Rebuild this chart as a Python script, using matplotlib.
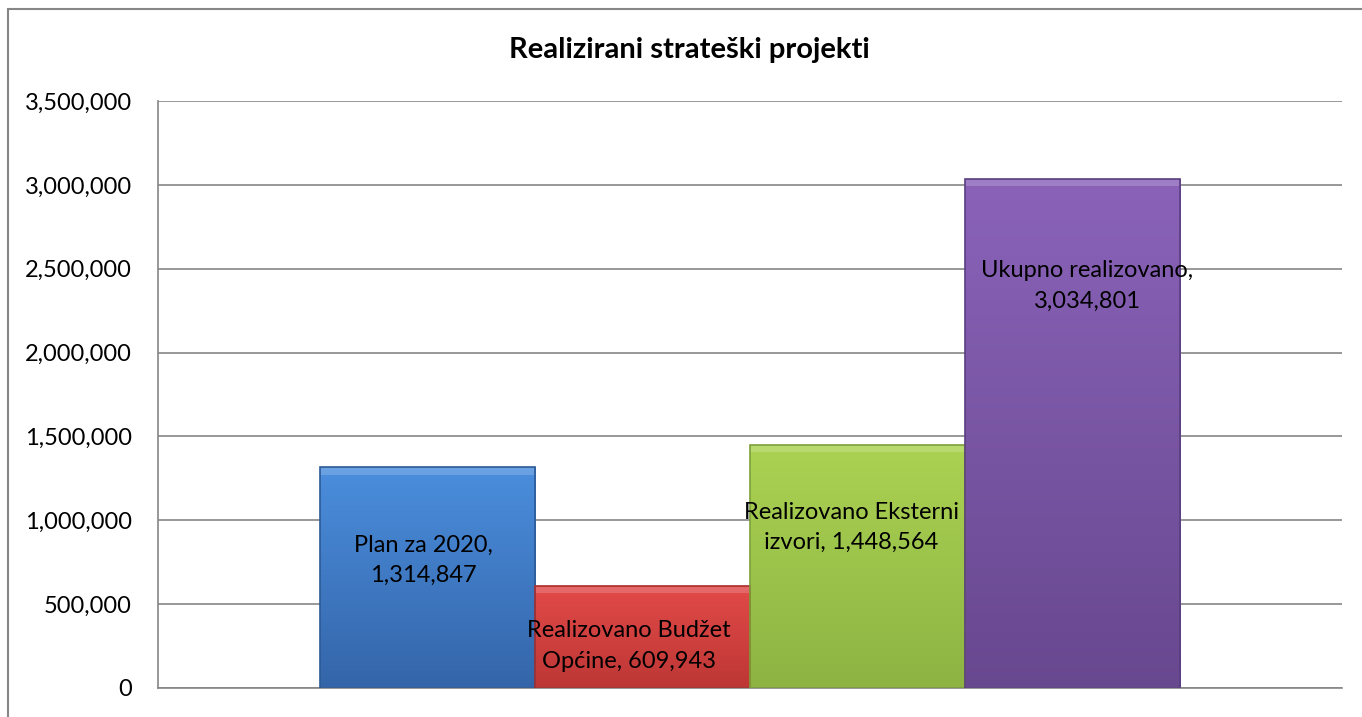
import numpy as np
import matplotlib
matplotlib.use('Agg')
import matplotlib.pyplot as plt
from matplotlib.patches import Rectangle
from matplotlib.colors import LinearSegmentedColormap
from matplotlib.ticker import FuncFormatter

plt.rcParams['font.family'] = ['Lato', 'DejaVu Sans']

# data
title = 'Realizirani strateški projekti'
series = ['Plan za 2020', 'Realizovano Budžet\nOpćine', 'Realizovano Eksterni\nizvori', 'Ukupno realizovano']
values = [1314847, 609943, 1448564, 3034801]
label_texts = ['Plan za 2020,\n1,314,847', 'Realizovano Budžet\nOpćine, 609,943',
               'Realizovano Eksterni\nizvori, 1,448,564', 'Ukupno realizovano,\n3,034,801']
yticks = [0, 500000, 1000000, 1500000, 2000000, 2500000, 3000000, 3500000]

# styles: (top colour, bottom colour)
grads = [('#4b8edd', '#3465a9'), ('#e24a48', '#bd3735'), ('#abd252', '#8db443'), ('#8a63b9', '#68488f')]
edges = ['#2c5a96', '#a82e2c', '#7ea03a', '#5a3e80']
label_dx = [-0.0034, -0.0118, -0.005, 0.0127]
label_fy = [0.58, 0.41, 0.66, 0.79]

fig = plt.figure(figsize=(13.62, 7.17), dpi=100)
ax = fig.add_axes([158/1362, 29/717, 1184/1362, 587/717])

# chart frame (only left/top visible in the crop)
fig.patches.append(Rectangle((8/1362, -0.1), 1.2, (717-9)/717 + 0.1, transform=fig.transFigure,
                             fill=False, edgecolor='#868686', linewidth=1.5, zorder=0))

w = 0.1816
xs = (np.arange(len(values)) - 1.5) * w
bars = ax.bar(xs, values, width=w, color='none', edgecolor='none', zorder=2)

for i, b in enumerate(bars):
    x0, y0 = b.get_x(), b.get_y()
    bw, bh = b.get_width(), b.get_height()
    cmap = LinearSegmentedColormap.from_list('g%d' % i, [grads[i][1], grads[i][0]])
    grad = np.linspace(0, 1, 256).reshape(-1, 1)
    im = ax.imshow(grad, cmap=cmap, origin='lower', aspect='auto',
                   extent=[x0, x0 + bw, y0, y0 + bh], zorder=2, interpolation='bicubic')
    rect = Rectangle((x0, y0), bw, bh, transform=ax.transData, facecolor='none')
    ax.add_patch(rect)
    im.set_clip_path(rect)
    # bevel highlight on top edge
    ax.add_patch(Rectangle((x0, y0 + bh - 0.012 * 3.5e6), bw, 0.012 * 3.5e6,
                           facecolor='white', alpha=0.18, edgecolor='none', zorder=3))
    ax.add_patch(Rectangle((x0, y0), bw, bh, facecolor='none', edgecolor=edges[i],
                           linewidth=1.2, zorder=3))
    ax.text(x0 + bw / 2 + label_dx[i], values[i] * label_fy[i], label_texts[i],
            ha='center', va='center', fontsize=17, color='black', linespacing=1.55, zorder=5)

ax.set_xlim(-0.5, 0.5)
ax.set_ylim(0, 3500000)
ax.set_yticks(yticks)
ax.yaxis.set_major_formatter(FuncFormatter(lambda v, p: f'{int(v):,}'))
ax.tick_params(axis='y', length=0, pad=19, labelsize=17)
ax.set_xticks([])
ax.grid(axis='y', color='#868686', linewidth=1.2, zorder=0)
ax.set_axisbelow(True)
for s in ['top', 'right']:
    ax.spines[s].set_visible(False)
for s in ['left', 'bottom']:
    ax.spines[s].set_color('#868686')
    ax.spines[s].set_linewidth(1.2)

fig.text(689/1362, 1 - 50/717, title, ha='center', va='center', fontsize=21, fontweight='bold')

fig.savefig('out.png', dpi=100)
